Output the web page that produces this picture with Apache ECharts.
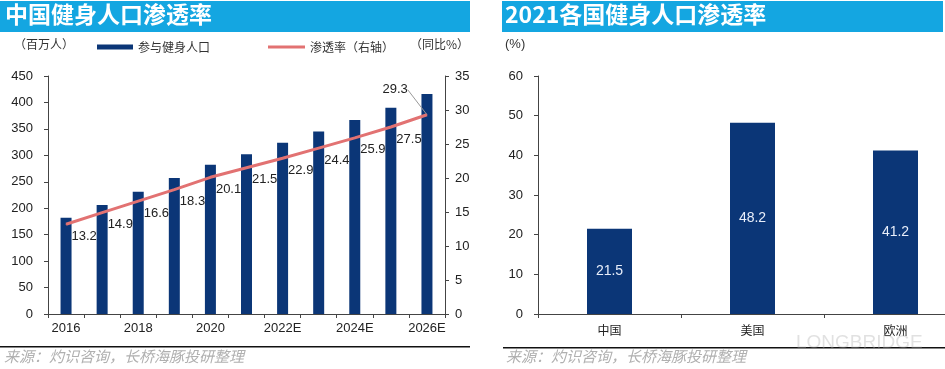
<!DOCTYPE html>
<html><head><meta charset="utf-8">
<script src="https://cdn.jsdelivr.net/npm/echarts@6/dist/echarts.min.js"></script>
<style>html,body{margin:0;padding:0;background:#fff}#c{width:945px;height:369px}</style>
</head><body><div id="c"></div>
<script>
// ---- data ----
var years = ['2016','2017','2018','2019','2020','2021','2022E','2023E','2024E','2025E','2026E'];
var fitnessPop = [182, 206, 231, 257, 282, 302, 324, 345, 367, 390, 416];
var penetration = [13.2, 14.9, 16.6, 18.3, 20.1, 21.5, 22.9, 24.4, 25.9, 27.5, 29.3];
var leftTicks = [0, 50, 100, 150, 200, 250, 300, 350, 400, 450];
var rightTicks = [0, 5, 10, 15, 20, 25, 30, 35];
var regions = ['中国', '美国', '欧洲'];
var regionRate = [21.5, 48.2, 41.2];
var regionTicks = [0, 10, 20, 30, 40, 50, 60];

var NAVY = '#0b3677', PINK = '#e27272', BLUE = '#14a6e1';
var numFont = '"Liberation Sans", Arial, sans-serif';
var cjk = '"Noto Sans CJK SC", sans-serif';

var lastIdx = penetration.length - 1;
var lineData = penetration.map(function (v, i) {
  return i === lastIdx
    ? {value: v, labelLine: {show: true, lineStyle: {color: '#999', width: 1}}}
    : {value: v};
});

var chart = echarts.init(document.getElementById('c'));
var axisLine = {show: true, lineStyle: {color: '#444', width: 1}};
var option = {
  animation: false,
  backgroundColor: '#fff',
  graphic: [
    {type: 'rect', left: 0, top: 1, shape: {width: 470, height: 31}, style: {fill: BLUE}},
    {type: 'rect', left: 502, top: 1, shape: {width: 441, height: 31}, style: {fill: BLUE}},
    {type: 'text', left: 5, top: 3, style: {text: '中国健身人口渗透率', fill: '#fff', font: 'bold 23px ' + cjk}},
    {type: 'text', left: 505, top: 3, style: {text: '2021各国健身人口渗透率', fill: '#fff', font: 'bold 23px ' + cjk}},
    {type: 'text', left: 14, top: 38, style: {text: '（百万人）', fill: '#333', font: '12px ' + cjk}},
    {type: 'text', left: 410, top: 38, style: {text: '（同比%）', fill: '#333', font: '12px ' + cjk}},
    {type: 'text', left: 505, top: 38, style: {text: '(%)', fill: '#333', font: '13px ' + numFont}},
    {type: 'rect', left: 0, top: 346, shape: {width: 470, height: 1.5}, style: {fill: '#111'}},
    {type: 'rect', left: 503, top: 347, shape: {width: 442, height: 1.5}, style: {fill: '#111'}},
    {type: 'text', left: 4, top: 349, style: {text: '来源：灼识咨询，长桥海豚投研整理', fill: '#b0b0b0', font: 'italic 15px ' + cjk}},
    {type: 'text', left: 506, top: 349, style: {text: '来源：灼识咨询，长桥海豚投研整理', fill: '#b0b0b0', font: 'italic 15px ' + cjk}},
    {type: 'text', left: 796, top: 333, style: {text: 'LONGBRIDGE', fill: 'rgba(170,170,170,0.35)', font: '19px ' + numFont}}
  ],
  legend: [
    {data: [{name: '参与健身人口', icon: 'rect'}], left: 97, top: 41, padding: 0, itemWidth: 36, itemHeight: 5, itemGap: 4,
     textStyle: {fontFamily: cjk, fontSize: 12, color: '#333'}},
    {data: [{name: '渗透率（右轴）', icon: 'rect'}], left: 268, top: 41, padding: 0, itemWidth: 37, itemHeight: 3, itemGap: 4,
     textStyle: {fontFamily: cjk, fontSize: 12, color: '#333'}}
  ],
  grid: [
    {left: 48, top: 76, width: 397, height: 238, outerBoundsMode: 'none'},
    {left: 538, top: 76, width: 429, height: 238, outerBoundsMode: 'none'}
  ],
  xAxis: [
    {type: 'category', gridIndex: 0, data: years, boundaryGap: true, axisLine: axisLine,
     axisTick: {show: true, inside: false, length: 4, alignWithLabel: false, interval: 0, lineStyle: {color: '#444'}},
     axisLabel: {interval: 1, color: '#222', fontFamily: numFont, fontSize: 13, margin: 8}},
    {type: 'category', gridIndex: 1, data: regions, boundaryGap: true, axisLine: axisLine,
     axisTick: {show: true, length: 4, interval: 0, lineStyle: {color: '#444'}},
     axisLabel: {color: '#222', fontFamily: cjk, fontSize: 12, margin: 10}}
  ],
  yAxis: [
    {type: 'value', gridIndex: 0, min: leftTicks[0], max: leftTicks[leftTicks.length - 1], interval: 50,
     axisLine: axisLine, axisTick: {show: true, length: 4, lineStyle: {color: '#444'}}, splitLine: {show: false},
     axisLabel: {color: '#222', fontFamily: numFont, fontSize: 13, margin: 15}},
    {type: 'value', gridIndex: 0, position: 'right', min: rightTicks[0], max: rightTicks[rightTicks.length - 1], interval: 5,
     axisLine: axisLine, axisTick: {show: true, length: 4, lineStyle: {color: '#444'}}, splitLine: {show: false},
     axisLabel: {color: '#222', fontFamily: numFont, fontSize: 13, margin: 10}},
    {type: 'value', gridIndex: 1, min: regionTicks[0], max: regionTicks[regionTicks.length - 1], interval: 10,
     axisLine: axisLine, axisTick: {show: true, length: 4, lineStyle: {color: '#444'}}, splitLine: {show: false},
     axisLabel: {color: '#222', fontFamily: numFont, fontSize: 13, margin: 15}}
  ],
  series: [
    {name: '参与健身人口', type: 'bar', xAxisIndex: 0, yAxisIndex: 0, data: fitnessPop, barWidth: 11,
     itemStyle: {color: NAVY}, z: 2},
    {name: '渗透率（右轴）', type: 'line', xAxisIndex: 0, yAxisIndex: 1, data: lineData,
     symbol: 'circle', symbolSize: 1, showSymbol: true, lineStyle: {color: PINK, width: 3}, itemStyle: {color: PINK}, z: 3,
     label: {show: true, position: 'right', distance: 5, color: '#222', fontFamily: numFont, fontSize: 13},
     labelLine: {show: false},
     labelLayout: function (p) {
       if (p.dataIndex === lastIdx) {
         return {dx: -50, dy: -25};
       }
       return {dy: 12};
     }},
    {name: '渗透率', type: 'bar', xAxisIndex: 1, yAxisIndex: 2, data: regionRate, barWidth: 45,
     itemStyle: {color: NAVY},
     label: {show: true, position: 'inside', color: '#e8eefa', fontFamily: numFont, fontSize: 14}}
  ]
};
chart.setOption(option);
</script>
</body></html>
